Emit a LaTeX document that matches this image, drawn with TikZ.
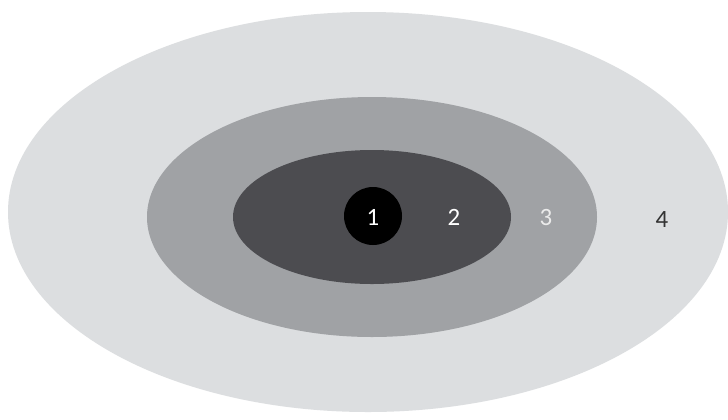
\documentclass[tikz,border=0pt]{standalone}
\usepackage{fontspec}
\setmainfont{Carlito}
\definecolor{ringfour}{HTML}{DCDEE0}
\definecolor{ringthree}{HTML}{A0A2A5}
\definecolor{ringtwo}{HTML}{4C4C50}
\begin{document}
\begin{tikzpicture}[x=1bp,y=-1bp,
  lbl/.style={font=\fontsize{25}{25}\selectfont, inner sep=0pt}]
\useasboundingbox (0,0) rectangle (728,419);
\fill[white] (0,0) rectangle (728,419);
\fill[ringfour] (368,212) ellipse [x radius=360, y radius=200];
\fill[ringthree] (372,217) ellipse [x radius=225, y radius=120];
\fill[ringtwo] (372,217) ellipse [x radius=139, y radius=67];
\fill[black] (373,216) circle [radius=29];
\node[lbl, text=white] (l1) at (373,217) {1};
\node[lbl, text=white] (l2) at (454,217) {2};
\node[lbl, text=white!92!black] (l3) at (546,217) {3};
\node[lbl, text=black!80] (l4) at (662,219) {4};
\end{tikzpicture}
\end{document}
